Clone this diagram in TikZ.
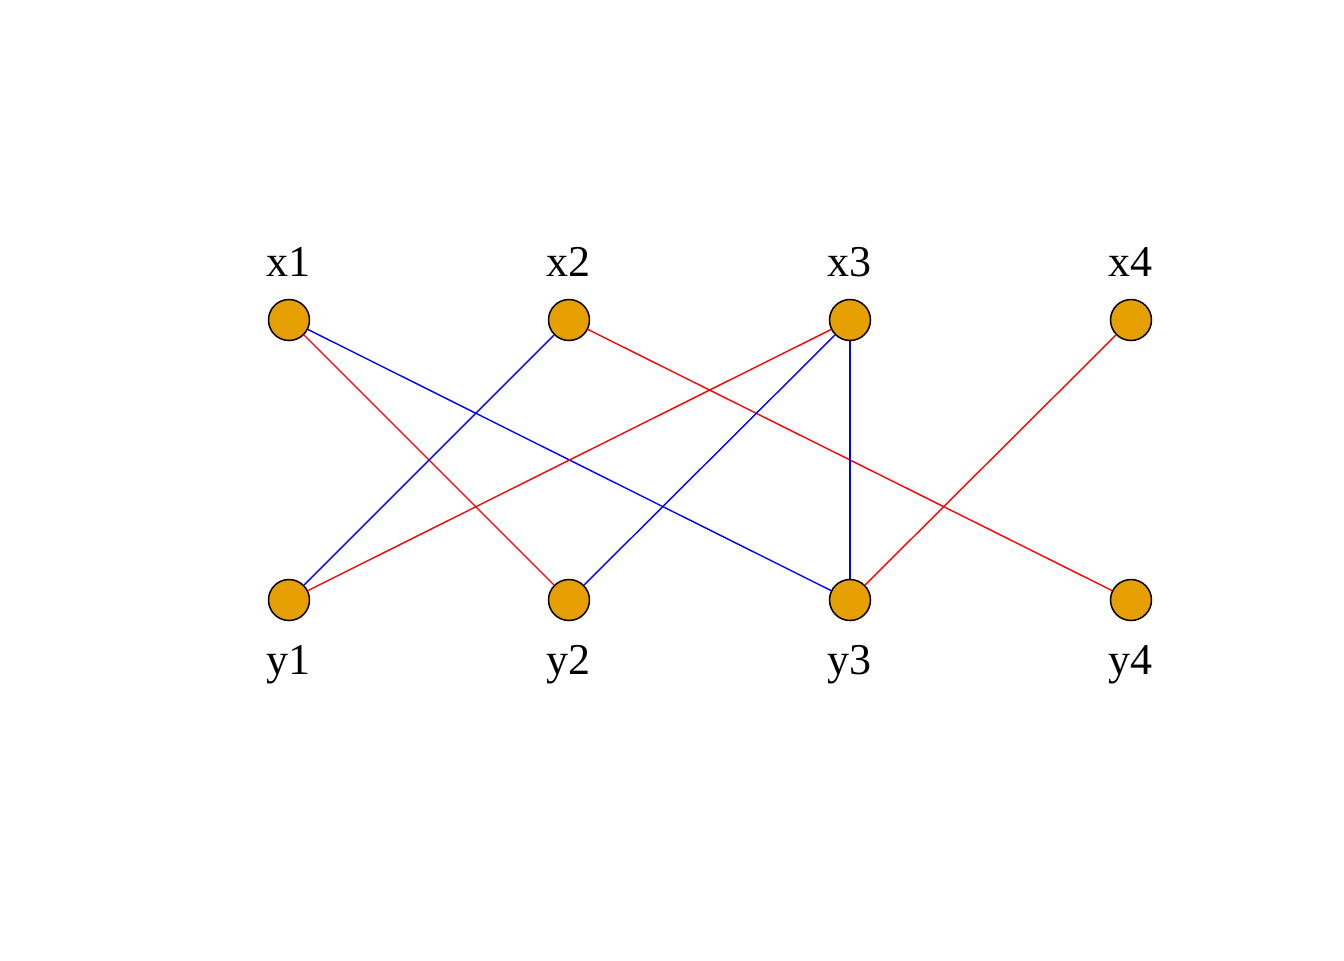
\documentclass[tikz,border=0pt]{standalone}
\usepackage{fontspec}
\setmainfont{Liberation Serif}
\definecolor{vfill}{HTML}{E69F00}
\begin{document}
\begin{tikzpicture}[x=0.5pt,y=-0.5pt,
  vert/.style={circle,draw=black,fill=vfill,line width=0.75pt,inner sep=0pt,minimum size=20.5pt},
  lbl/.style={anchor=base,font=\fontsize{22}{26}\selectfont,inner sep=0pt},
  redge/.style={draw=red,line width=0.7pt},
  bedge/.style={draw=blue,line width=0.7pt}]
\useasboundingbox[fill=white] (0,0) rectangle (1344,960);
\node[vert] (x1) at (289,320) {};
\node[vert] (x2) at (569,320) {};
\node[vert] (x3) at (850,320) {};
\node[vert] (x4) at (1131,320) {};
\node[vert] (y1) at (289,600) {};
\node[vert] (y2) at (569,600) {};
\node[vert] (y3) at (850,600) {};
\node[vert] (y4) at (1131,600) {};
\node[lbl] (lx1) at (288,276) {x1};
\node[lbl] (lx2) at (568,276) {x2};
\node[lbl] (lx3) at (849,276) {x3};
\node[lbl] (lx4) at (1130,276) {x4};
\node[lbl] (ly1) at (288,674) {y1};
\node[lbl] (ly2) at (568,674) {y2};
\node[lbl] (ly3) at (849,674) {y3};
\node[lbl] (ly4) at (1130,674) {y4};
\draw[bedge] (x1) -- (y3);
\draw[redge] (x1) -- (y2);
\draw[bedge] (x2) -- (y1);
\draw[redge] (x2) -- (y4);
\draw[redge] (x3) -- (y1);
\draw[bedge] (x3) -- (y2);
\draw[bedge] (x3) -- (y3);
\draw[redge] (x4) -- (y3);
\end{tikzpicture}
\end{document}
